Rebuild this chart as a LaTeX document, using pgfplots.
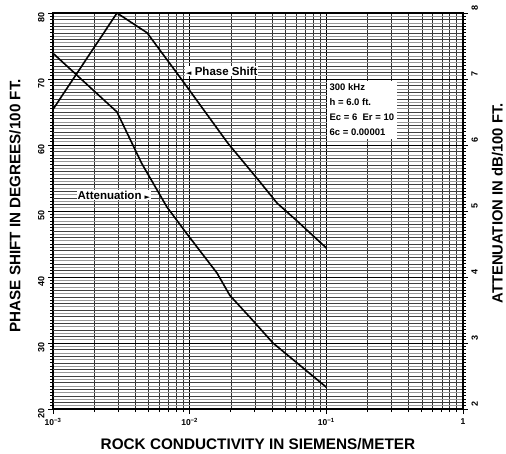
\documentclass[border=0pt]{standalone}
\usepackage{pgfplots}
\pgfplotsset{compat=1.18}
\usepackage{fontspec}
\setmainfont{Liberation Sans}
\newfontfamily\dejavu{DejaVu Sans}
\begin{document}
\begin{tikzpicture}[x=1pt,y=1pt]
\useasboundingbox (0,0) rectangle (506,453);
\begin{axis}[
  at={(53pt,44pt)}, anchor=south west,
  scale only axis, width=410pt, height=396pt,
  xmode=log, xmin=1e-3, xmax=1, ymin=20, ymax=80,
  /pgf/number format/assume math mode=true,
  axis line style={line width=1.4pt},
  xtick={0.001,0.01,0.1,1},
  xticklabels={10\textsuperscript{−3},10\textsuperscript{−2},10\textsuperscript{−1},1},
  ytick={20,30,...,80},
  minor y tick num=19,
  xtick pos=bottom, ytick pos=left,
  tick align=outside,
  major tick length=5pt, minor tick length=3pt,
  every tick/.style={black, line width=0.8pt},
  grid=both,
  major grid style={black, line width=1.0pt},
  minor x grid style={black!80, line width=0.6pt},
  minor y grid style={black!40, line width=0.45pt},
  extra y ticks={21,22,23,24,25,26,27,28,29,31,32,33,34,35,36,37,38,39,41,42,43,44,45,46,47,48,49,51,52,53,54,55,56,57,58,59,61,62,63,64,65,66,67,68,69,71,72,73,74,75,76,77,78,79},
  extra y tick labels={},
  extra y tick style={grid=major, major grid style={black!75, line width=0.6pt}, major tick length=3pt},
  xticklabel style={font=\fontsize{8.5}{9}\selectfont\bfseries, yshift=-1pt},
  yticklabel style={font=\fontsize{9}{10}\selectfont\bfseries, rotate=90, anchor=south, xshift=-4pt},
  xlabel={ROCK CONDUCTIVITY IN SIEMENS/METER},
  xlabel style={font=\fontsize{15.3}{17}\selectfont\bfseries, at={(axis description cs:0.5,-0.088)}, anchor=center},
  ylabel={PHASE SHIFT IN DEGREES/100 FT.},
  ylabel style={font=\fontsize{15.2}{17}\selectfont\bfseries, at={(axis description cs:-0.0927,0.513)}, anchor=center, rotate=0},
  clip=false,
]
\addplot[black, line width=1.6pt] coordinates {
  (0.001,65.4) (0.00294,80) (0.00488,77) (0.00879,69.85) (0.0190,60.3)
  (0.0327,54.4) (0.0436,51.2) (0.0610,48.5) (0.1,44.4)};
\node[fill=white, inner sep=1pt, font=\fontsize{11.5}{12}\selectfont\bfseries] at (axis cs:0.0172,71.2) {{\dejavu\fontsize{7}{8}\selectfont ◄} Phase Shift};
\node[fill=white, inner sep=1pt, font=\fontsize{11.5}{12}\selectfont\bfseries] at (axis cs:0.00279,52.4) {Attenuation {\dejavu\fontsize{7}{8}\selectfont ►}};
\node[fill=white, inner sep=3pt, align=left, font=\fontsize{9.5}{15}\selectfont\bfseries] at (axis cs:0.182,65.3) {300 kHz\\h = 6.0 ft.\\Ec = 6\ \ Er = 10\\6c = 0.00001};
\end{axis}
\begin{axis}[
  at={(53pt,44pt)}, anchor=south west,
  scale only axis, width=410pt, height=396pt,
  xmode=log, xmin=1e-3, xmax=1, ymin=2, ymax=8,
  /pgf/number format/assume math mode=true,
  axis x line=none, axis y line*=right,
  axis line style={line width=1.4pt},
  ytick={2,3,...,8},
  minor y tick num=19,
  tick align=outside,
  major tick length=5pt, minor tick length=3pt,
  every tick/.style={black, line width=0.8pt},
  yticklabel style={font=\fontsize{9}{10}\selectfont\bfseries, rotate=90, anchor=north, xshift=5pt},
  ylabel={ATTENUATION IN dB/100 FT.},
  ylabel style={font=\fontsize{14.8}{17}\selectfont\bfseries, at={(axis description cs:1.084,0.519)}, anchor=center, rotate=0},
]
\addplot[black, line width=1.6pt] coordinates {
  (0.001,7.39) (0.00294,6.5) (0.00446,5.72) (0.00682,5.06) (0.0095,4.66)
  (0.01585,4.06) (0.0197,3.72) (0.0276,3.39) (0.0407,3.0) (0.1,2.33)};
\end{axis}
\end{tikzpicture}
\end{document}
